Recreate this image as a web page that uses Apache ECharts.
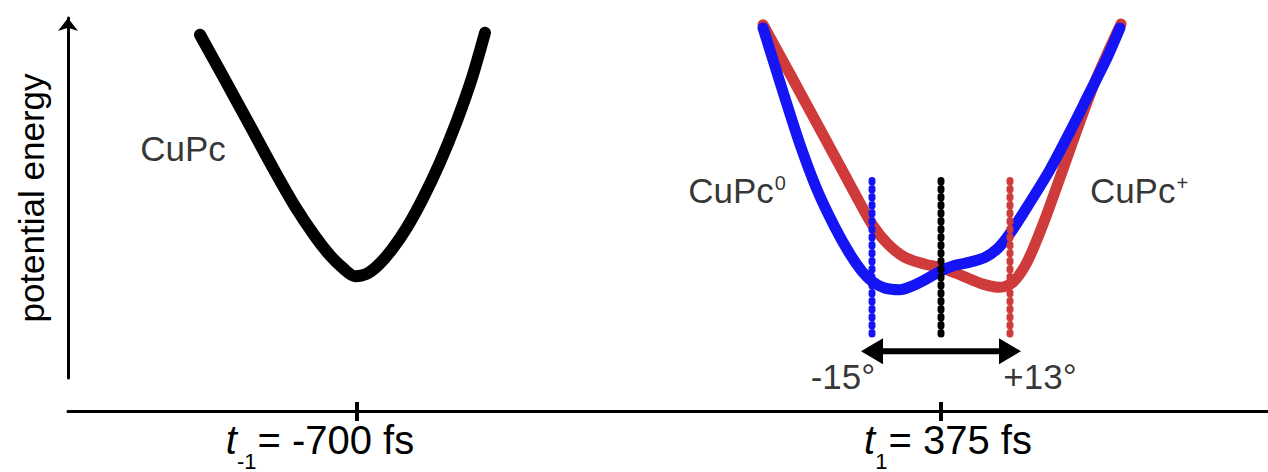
<!DOCTYPE html>
<html>
<head>
<meta charset="utf-8">
<script src="https://cdn.jsdelivr.net/npm/echarts@6/dist/echarts.min.js"></script>
<style>
html,body{margin:0;padding:0;background:#fff;}
#chart{width:1268px;height:472px;}
</style>
</head>
<body>
<div id="chart"></div>
<script>
// Arbitrary units: x = configuration coordinate (0..120), E = potential energy (0..100)
const blackX = [13.2, 15.7, 18.2, 20.7, 22.7, 24.7, 26.2, 27.5, 28.7, 29.8, 31.0, 32.4, 33.9, 35.5, 37.2, 38.9, 40.4, 41.7];
const blackE = [94.3, 83.0, 71.5, 60.0, 51.3, 43.8, 39.0, 35.8, 33.8, 34.3, 36.5, 40.5, 46.0, 53.3, 62.3, 72.8, 83.5, 94.8];

const blueX = [69.5, 71.5, 73.2, 74.9, 76.7, 78.2, 79.4, 80.4, 81.7, 83.2, 84.4, 85.5, 87.2, 88.7, 90.2, 91.7, 93.0, 94.2, 96.2, 98.2, 100.2, 102.2, 103.9, 105.2];
const blueE = [96.0, 80.0, 66.8, 55.5, 46.0, 39.3, 35.0, 32.5, 30.8, 30.4, 31.3, 32.6, 35.0, 36.5, 37.3, 38.5, 40.8, 44.5, 52.3, 60.5, 70.0, 80.0, 88.5, 96.0];

const redX = [69.5, 72.2, 74.9, 77.5, 78.9, 80.4, 82.0, 83.7, 85.7, 87.5, 89.5, 91.5, 93.2, 94.5, 95.9, 97.5, 99.2, 100.9, 102.7, 104.1, 105.3];
const redE = [96.8, 84.5, 72.0, 60.0, 53.5, 46.8, 41.8, 38.5, 36.8, 35.8, 33.8, 31.8, 31.0, 32.3, 37.3, 46.8, 58.5, 70.5, 82.5, 90.5, 97.0];

// vertical dotted markers (x positions) and their energy span
const markerX = [80.4, 87.3, 94.2];
const markerE = [19.3, 59.3];
// double arrow between the two extreme geometries
const arrowX = [80.4, 94.2];
const arrowE = 15;

// time axis ticks and labels
const tickValues = [28.9, 87.3];
const tickLabelPos = [25.2, 88.0];
const tickLabels = ['{it|t}{sub|-1}{m|= -700 fs}', '{it|t}{sub|1}{m|= 375 fs}'];

// annotation texts
const annX = [11.5, 66.9, 107.1, 77.5, 97.2];
const annE = [65.0, 54.3, 54.3, 7.8, 7.8];
const annText = ['{m|CuPc}', '{m|CuPc}{sup|0}', '{m|CuPc}{sup|+}', '{m|-15°}', '{m|+13°}'];

const FONT = 'Liberation Sans, Arial, Helvetica, sans-serif';
const BLUE = '#1414f4';
const RED = '#cf3a3a';
const INK = '#000000';

const zip = (xs, ys) => xs.map((x, i) => [x, ys[i]]);

const curveStyle = (color, width) => ({ color: color, width: width, cap: 'round', join: 'round' });

const series = [
  { type: 'line', name: 'CuPc+', data: zip(redX, redE), smooth: 0.3, showSymbol: false, symbol: 'none',
    lineStyle: curveStyle(RED, 11), z: 2 },
  { type: 'line', name: 'CuPc0', data: zip(blueX, blueE), smooth: 0.3, showSymbol: false, symbol: 'none',
    lineStyle: curveStyle(BLUE, 11), z: 3 },
  { type: 'line', name: 'CuPc', data: zip(blackX, blackE), smooth: 0.3, showSymbol: false, symbol: 'none',
    lineStyle: curveStyle('#000', 12), z: 3 }
];

const markerColors = [BLUE, '#000', RED];
markerX.forEach((mx, i) => {
  series.push({
    type: 'line', data: [[mx, markerE[0]], [mx, markerE[1]]], symbol: 'none', showSymbol: false,
    lineStyle: { color: markerColors[i], width: 7, type: [1.5, 6.5], cap: 'round' }, z: 5
  });
});

series.push({
  type: 'line',
  data: [
    { value: [arrowX[0], arrowE], symbolRotate: 90 },
    { value: [arrowX[1], arrowE], symbolRotate: -90 }
  ],
  symbol: 'triangle', symbolSize: [26, 22], showSymbol: true,
  itemStyle: { color: '#000' },
  lineStyle: { color: '#000', width: 6 }, z: 6
});

const annRich = {
  m: { fontSize: 35, fontFamily: FONT, color: INK, verticalAlign: 'top', lineHeight: 42 },
  sup: { fontSize: 20, fontFamily: FONT, color: INK, verticalAlign: 'top', lineHeight: 20, padding: [0, 0, 0, 1] }
};
const axisRich = {
  m: { fontSize: 40, fontFamily: FONT, color: INK, verticalAlign: 'top', lineHeight: 46 },
  it: { fontSize: 40, fontFamily: FONT, fontStyle: 'italic', color: INK, verticalAlign: 'top', lineHeight: 46 },
  sub: { fontSize: 22, fontFamily: FONT, color: INK, verticalAlign: 'top', lineHeight: 24, padding: [30, 1, 0, 0] }
};

series.push({
  type: 'scatter',
  data: annX.map((x, i) => ({ value: [x, annE[i]], name: annText[i] })),
  symbolSize: 0,
  silent: true,
  label: { show: true, position: 'inside', color: INK, formatter: p => p.name, rich: annRich },
  z: 10
});

const chart = echarts.init(document.getElementById('chart'), null, { renderer: 'svg' });
chart.setOption({
  animation: false,
  backgroundColor: '#fff',
  grid: [
    { left: 68, right: 0, top: 12, bottom: 60 },
    { left: 68, right: 0, top: 18, bottom: 94 }
  ],
  xAxis: [
    { type: 'value', gridIndex: 0, min: 0, max: 120, position: 'bottom',
      axisLine: { show: true, lineStyle: { color: INK, width: 3 } },
      axisTick: { show: true, customValues: tickValues, length: 10, lineStyle: { color: INK, width: 4 } },
      axisLabel: { show: true, customValues: tickLabelPos, margin: 9, color: INK, formatter: v => tickLabels[tickLabelPos.indexOf(v)] || '', rich: axisRich },
      splitLine: { show: false } },
    { type: 'value', gridIndex: 0, min: 0, max: 120, position: 'bottom',
      axisLine: { show: false },
      axisTick: { show: true, inside: true, customValues: tickValues, length: 9, lineStyle: { color: INK, width: 4 } },
      axisLabel: { show: false }, splitLine: { show: false } },
    { type: 'value', gridIndex: 1, min: 0, max: 120, show: false }
  ],
  yAxis: [
    { type: 'value', gridIndex: 0, min: 0, max: 100, show: false },
    { type: 'value', gridIndex: 1, min: 0, max: 100, position: 'left',
      name: 'potential energy', nameLocation: 'middle', nameGap: 19,
      nameTextStyle: { fontSize: 35, fontFamily: FONT, color: INK },
      axisLine: { show: true, symbol: ['none', 'arrow'], symbolSize: [15, 13], lineStyle: { color: INK, width: 3 } },
      axisTick: { show: false }, axisLabel: { show: false }, splitLine: { show: false } }
  ],
  series: series
});
</script>
</body>
</html>
